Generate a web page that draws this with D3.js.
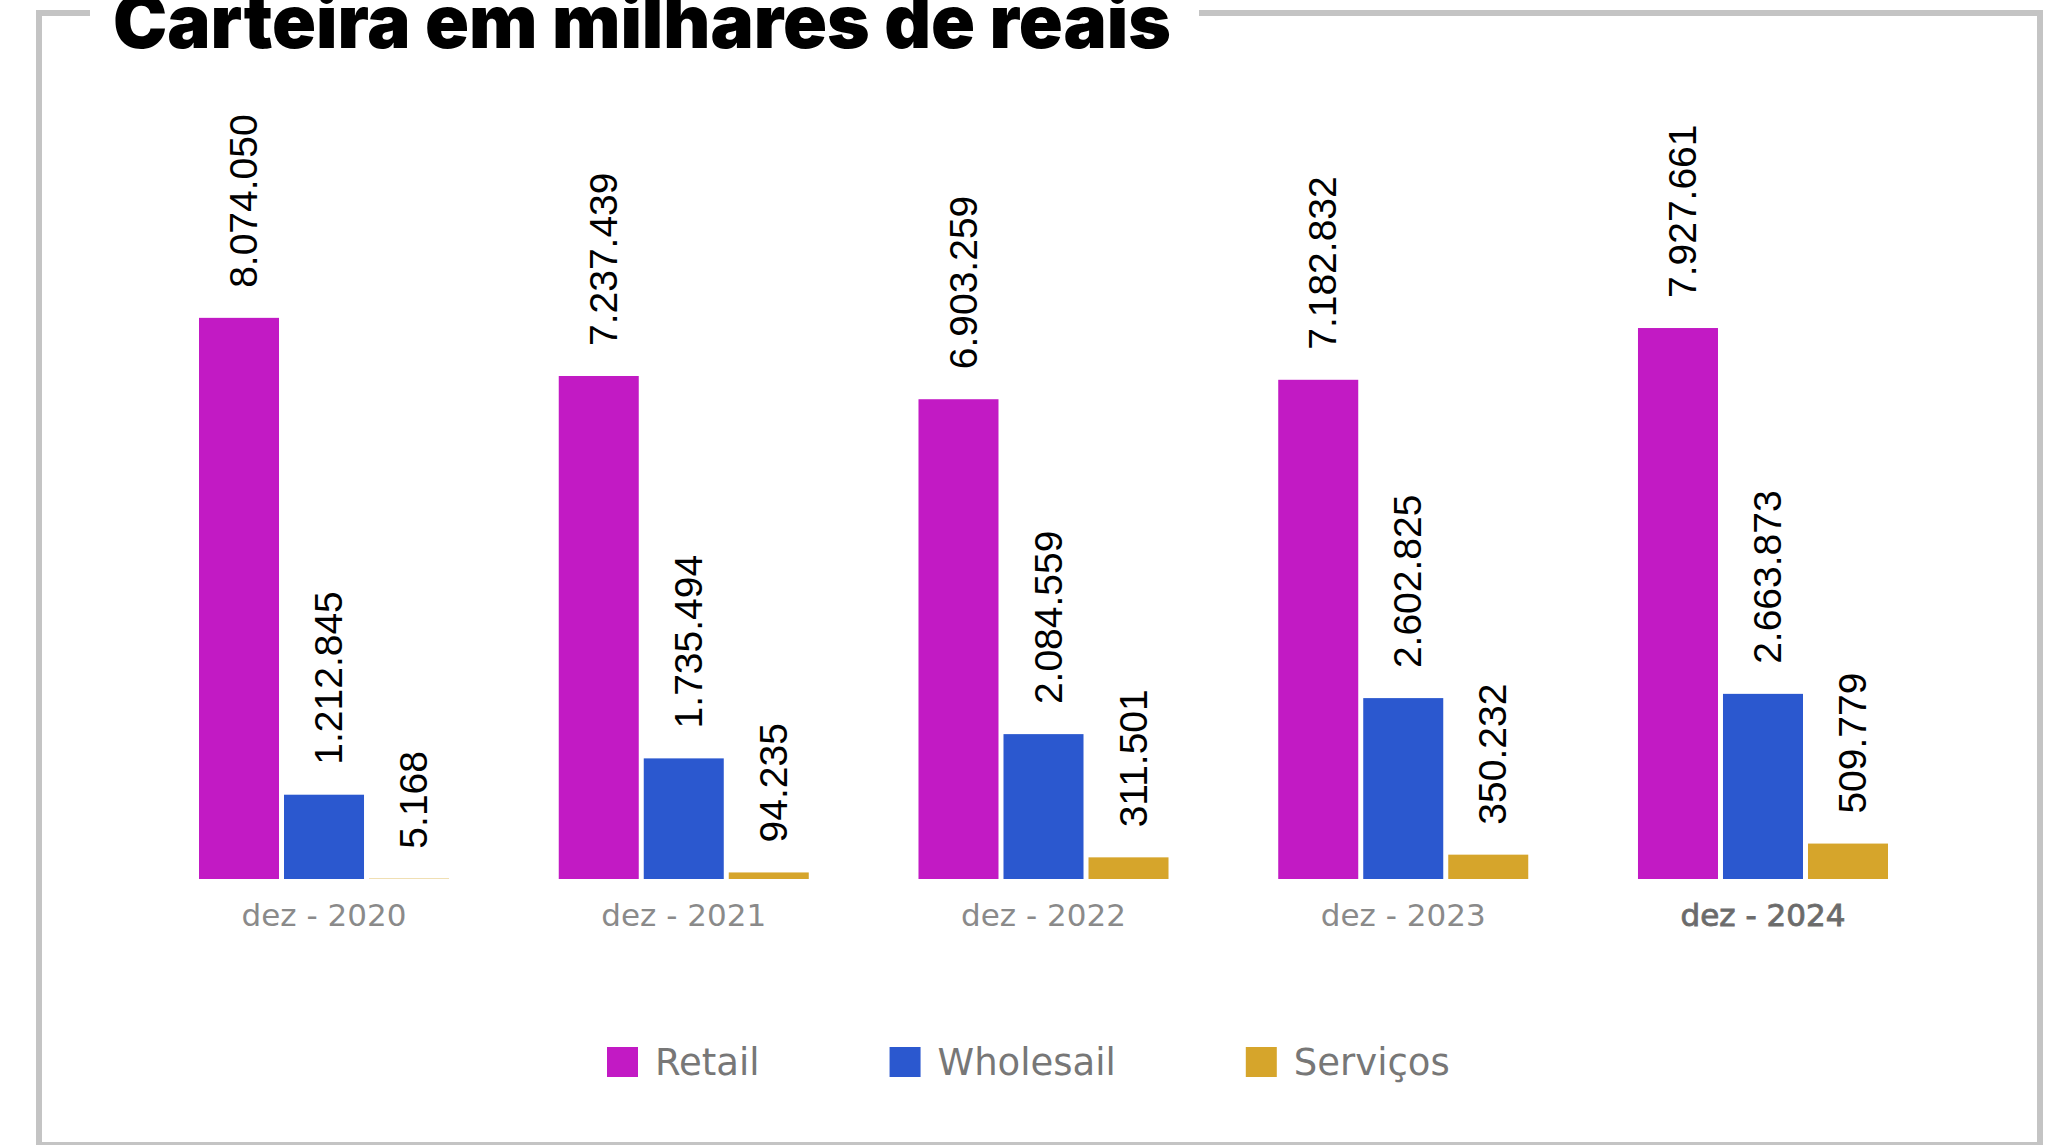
<!DOCTYPE html>
<html>
<head>
<meta charset="utf-8">
<script src="https://cdn.jsdelivr.net/npm/d3@7"></script>
<style>
  html, body { margin: 0; padding: 0; background: #fff; }
  svg { display: block; }
</style>
</head>
<body>
<script>
// ---- data ----
const categories = ["dez - 2020", "dez - 2021", "dez - 2022", "dez - 2023", "dez - 2024"];
const seriesNames = ["Retail", "Wholesail", "Serviços"];
const retail = [8074050, 7237439, 6903259, 7182832, 7927661];
const wholesail = [1212845, 1735494, 2084559, 2602825, 2663873];
const servicos = [5168, 94235, 311501, 350232, 509779];
const seriesColors = ["#C21AC4", "#2B58CF", "#D6A52B"];
const title = "Carteira em milhares de reais";

const seriesValues = [retail, wholesail, servicos];
const rows = categories.map((c, i) => ({
  cat: c,
  vals: seriesNames.map((s, j) => ({ series: s, value: seriesValues[j][i], color: seriesColors[j] }))
}));

const W = 2070, H = 1145;
const svg = d3.select("body").append("svg").attr("width", W).attr("height", H);

// frame
svg.append("rect")
  .attr("x", 39).attr("y", 13).attr("width", 2001).attr("height", 1132)
  .attr("fill", "none").attr("stroke", "#c4c4c4").attr("stroke-width", 6);
// gap for title
svg.append("rect").attr("x", 90).attr("y", 0).attr("width", 1109).attr("height", 30).attr("fill", "#fff");

svg.append("text")
  .attr("x", 113).attr("y", 48)
  .attr("font-family", "Inter, 'Roboto', sans-serif")
  .attr("font-weight", 900)
  .attr("font-size", 74)
  .attr("textLength", 1058)
  .attr("lengthAdjust", "spacingAndGlyphs")
  .attr("fill", "#000")
  .text(title);

// scales
const x0 = d3.scaleBand().domain(categories).range([199, 1888]).paddingInner(0.305).paddingOuter(0);
const x1 = d3.scaleBand().domain(seriesNames).range([0, x0.bandwidth()]).paddingInner(0.0588).paddingOuter(0);
const y = d3.scaleLinear().domain([0, 10000000]).range([879, 184]);

const locale = d3.formatLocale({ decimal: ",", thousands: ".", grouping: [3], currency: ["R$", ""] });
const fmt = locale.format(",d");

const groups = svg.append("g").selectAll("g")
  .data(rows).join("g")
  .attr("transform", d => `translate(${x0(d.cat)},0)`);

groups.selectAll("rect")
  .data(d => d.vals).join("rect")
  .attr("x", d => x1(d.series))
  .attr("width", x1.bandwidth())
  .attr("y", d => y(d.value))
  .attr("height", d => y(0) - y(d.value))
  .attr("fill", d => d.color);

groups.selectAll("text.val")
  .data(d => d.vals).join("text")
  .attr("class", "val")
  .attr("transform", d => `translate(${x1(d.series) + x1.bandwidth() / 2 + 4},${y(d.value) - 30}) rotate(-90)`)
  .attr("dy", "0.36em")
  .attr("text-anchor", "start")
  .attr("font-family", "'Liberation Sans', Arial, sans-serif")
  .attr("font-size", 39)
  .attr("fill", "#000")
  .text(d => fmt(d.value));

// x axis (labels only)
const xAxis = svg.append("g")
  .attr("transform", `translate(0,${y(0)})`)
  .call(d3.axisBottom(x0).tickSize(0).tickPadding(25));
xAxis.select(".domain").remove();
xAxis.selectAll("text")
  .attr("font-family", "'DejaVu Sans', sans-serif")
  .attr("font-size", 31)
  .attr("fill", "#8a8a8a")
  .attr("stroke", (d, i) => i === categories.length - 1 ? "#707070" : "none")
  .attr("stroke-width", 0.9)
  .style("fill", (d, i) => i === categories.length - 1 ? "#6a6a6a" : "#8a8a8a");

// legend
const legend = svg.append("g");
let lx = 607;
seriesNames.forEach((s, i) => {
  const g = legend.append("g").attr("transform", `translate(${lx},0)`);
  g.append("rect").attr("x", 0).attr("y", 1047).attr("width", 31).attr("height", 30).attr("fill", seriesColors[i]);
  const t = g.append("text").attr("x", 48).attr("y", 1075)
    .attr("font-family", "'DejaVu Sans', sans-serif")
    .attr("font-size", 37)
    .attr("fill", "#777")
    .text(s);
  const w = t.node().getComputedTextLength();
  lx += 48 + w + 130;
});
</script>
</body>
</html>
